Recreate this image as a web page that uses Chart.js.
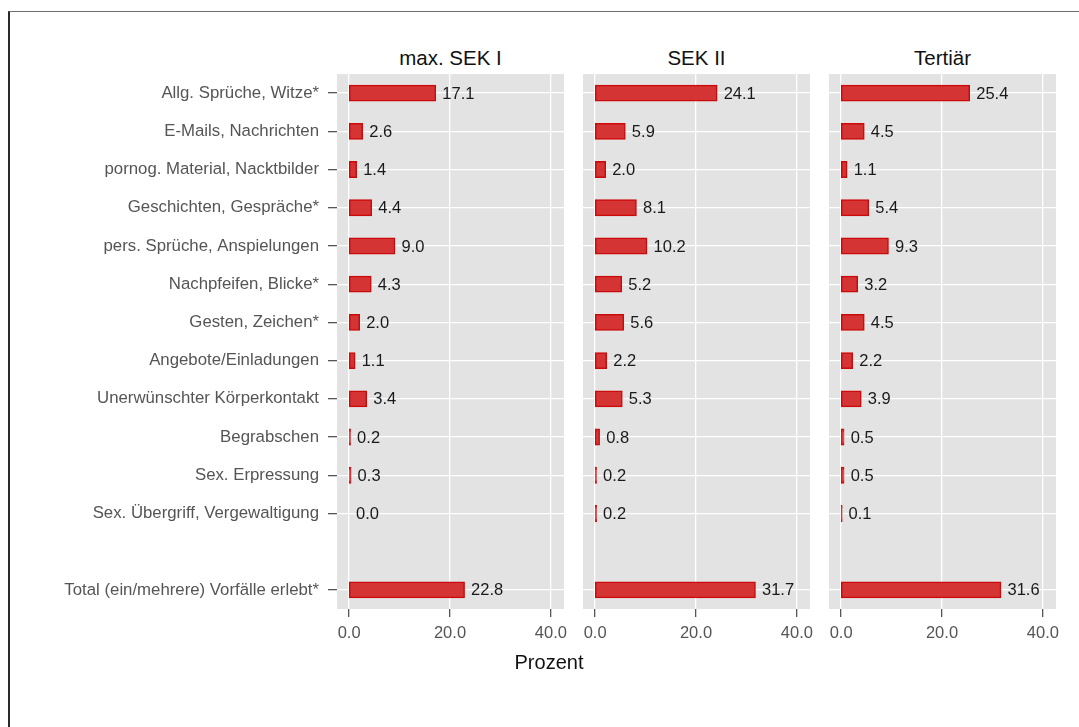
<!DOCTYPE html>
<html>
<head>
<meta charset="utf-8">
<script src="https://cdn.jsdelivr.net/npm/chart.js@4/dist/chart.umd.min.js"></script>
<style>
  html, body { margin: 0; padding: 0; background: #fff; }
  body { width: 1079px; height: 727px; position: relative; overflow: hidden;
         font-family: "Liberation Sans", Arial, sans-serif; }
  .frame { position: absolute; left: 8px; top: 11px; right: -4px; bottom: -4px;
           border-top: 1.5px solid #6e6e6e; border-left: 2px solid #2a2a2a; }
  canvas { position: absolute; }
  .facet { position: absolute; top: 47px; height: 22px; line-height: 22px;
           text-align: center; font-size: 20.5px; color: #111; }
  .xtitle { position: absolute; left: 449px; width: 200px; top: 651px; line-height: 22px;
            text-align: center; font-size: 20px; color: #111; }
</style>
</head>
<body>
<div class="frame"></div>
<div class="facet" style="left:337px;width:227px">max. SEK I</div>
<div class="facet" style="left:583px;width:227px">SEK II</div>
<div class="facet" style="left:829px;width:227px">Tertiär</div>
<canvas id="p1" width="584" height="580" style="left:0;top:74px"></canvas>
<canvas id="p2" width="267" height="580" style="left:563px;top:74px"></canvas>
<canvas id="p3" width="267" height="580" style="left:809px;top:74px"></canvas>
<div class="xtitle">Prozent</div>
<script>
// categories (empty slot = spacer row before the total)
const categories = [
  "Allg. Sprüche, Witze*",
  "E-Mails, Nachrichten",
  "pornog. Material, Nacktbilder",
  "Geschichten, Gespräche*",
  "pers. Sprüche, Anspielungen",
  "Nachpfeifen, Blicke*",
  "Gesten, Zeichen*",
  "Angebote/Einladungen",
  "Unerwünschter Körperkontakt",
  "Begrabschen",
  "Sex. Erpressung",
  "Sex. Übergriff, Vergewaltigung",
  "",
  "Total (ein/mehrere) Vorfälle erlebt*",
];
const sekI     = [17.1, 2.6, 1.4, 4.4, 9.0, 4.3, 2.0, 1.1, 3.4, 0.2, 0.3, 0.0, null, 22.8];
const sekII    = [24.1, 5.9, 2.0, 8.1, 10.2, 5.2, 5.6, 2.2, 5.3, 0.8, 0.2, 0.2, null, 31.7];
const tertiaer = [25.4, 4.5, 1.1, 5.4, 9.3, 3.2, 4.5, 2.2, 3.9, 0.5, 0.5, 0.1, null, 31.6];
const xTicks = [0, 20, 40];

const FONT = "Liberation Sans, Arial, sans-serif";
const PANEL_BG = "#e3e3e3";
const GRID = "#ffffff";
const AXIS_TXT = "#555555";

const panelBg = {
  id: "panelBg",
  beforeDraw(chart) {
    const { ctx, chartArea: a } = chart;
    ctx.save();
    ctx.fillStyle = PANEL_BG;
    ctx.fillRect(a.left, a.top, a.right - a.left, a.bottom - a.top);
    ctx.restore();
  },
};

// value text just right of each bar end
const valueLabels = {
  id: "valueLabels",
  afterDatasetsDraw(chart) {
    const { ctx } = chart;
    const meta = chart.getDatasetMeta(0);
    const vals = chart.data.datasets[0].data;
    ctx.save();
    ctx.font = `16.5px ${FONT}`;
    ctx.fillStyle = "#1a1a1a";
    ctx.textAlign = "left";
    ctx.textBaseline = "middle";
    meta.data.forEach((bar, i) => {
      if (vals[i] == null) return;
      ctx.fillText(vals[i].toFixed(1), bar.x + 7, bar.y + 1);
    });
    ctx.restore();
  },
};

function makePanel(id, values, showLabels) {
  const pad = showLabels ? { left: 0, right: 20, top: 0, bottom: 0 }
                         : { left: 20, right: 20, top: 0, bottom: 0 };
  return new Chart(document.getElementById(id), {
    type: "bar",
    data: {
      labels: categories,
      datasets: [{
        data: values,
        backgroundColor: "#d43434",
        borderColor: "#cc0a0a",
        borderWidth: 1.5,
        borderSkipped: false,
        inflateAmount: (c) => (c.raw > 0 ? 0.8 : 0),
        barPercentage: 0.4,
        categoryPercentage: 1.0,
      }],
    },
    options: {
      indexAxis: "y",
      responsive: false,
      animation: false,
      layout: { padding: pad },
      plugins: { legend: { display: false }, tooltip: { enabled: false } },
      scales: {
        x: {
          min: -2.4,
          max: 42.6,
          afterBuildTicks: (ax) => { ax.ticks = xTicks.map((v) => ({ value: v })); },
          afterFit: (ax) => { ax.height = 45; },
          border: { display: false },
          grid: { color: GRID, lineWidth: 1.3, tickColor: AXIS_TXT, tickLength: 8 },
          ticks: {
            color: AXIS_TXT,
            font: { family: FONT, size: 16.5 },
            padding: 7,
            maxRotation: 0,
            callback: (v) => Number(v).toFixed(1),
          },
        },
        y: {
          offset: true,
          afterFit: (ax) => {
            ax.width = showLabels ? 337 : 0;
            ax.paddingTop = 0;
            ax.paddingBottom = 0;
          },
          border: { display: false },
          grid: {
            offset: false,
            lineWidth: 1.3,
            drawTicks: showLabels,
            color: (c) => (categories[c.index] ? GRID : "rgba(0,0,0,0)"),
            tickColor: (c) => (categories[c.index] ? AXIS_TXT : "rgba(0,0,0,0)"),
            tickLength: 9,
          },
          ticks: {
            display: showLabels,
            color: AXIS_TXT,
            font: { family: FONT, size: 16.8 },
            padding: 9,
            autoSkip: false,
          },
        },
      },
    },
    plugins: [panelBg, valueLabels],
  });
}

makePanel("p1", sekI, true);
makePanel("p2", sekII, false);
makePanel("p3", tertiaer, false);
</script>
</body>
</html>
